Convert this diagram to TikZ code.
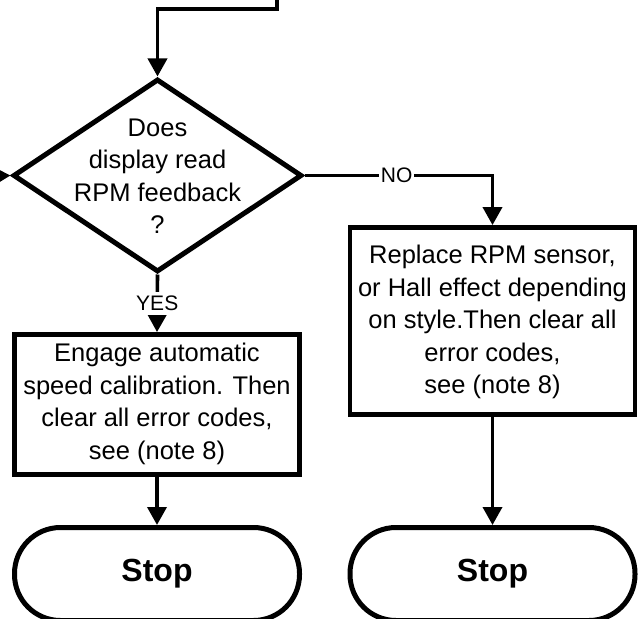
\documentclass[tikz,border=0pt]{standalone}
\usepackage{fontspec}
\setmainfont{Liberation Sans}
\usetikzlibrary{arrows.meta,shapes.geometric}
\begin{document}
\begin{tikzpicture}[x=1pt,y=-1pt,
  conn/.style={line width=3.6pt,-{Triangle[length=18pt,width=19pt]}},
  boxtext/.style={font=\fontsize{25.5}{32.5}\selectfont,align=center,inner sep=0pt},
  procbox/.style={draw,line width=4.8pt,minimum width=285pt,inner sep=0pt},
  decbox/.style={draw,shape=diamond,line width=5pt,minimum width=289pt,minimum height=193pt,inner sep=0pt},
  stopbox/.style={draw,line width=5pt,rounded corners=46pt,minimum width=285pt,minimum height=93pt,inner sep=0pt,font=\fontsize{32}{36}\selectfont\bfseries},
  lbl/.style={fill=white,inner xsep=1.5pt,inner ysep=4pt,font=\fontsize{21}{24}\selectfont}
]
\useasboundingbox (0,0) rectangle (642,618);
\clip (0,0) rectangle (642,618);

\coordinate (topin) at (277,-10);
\coordinate (leftin) at (-30,177);

\node[decbox] (dec) at (157.5,175.5) {};
\node[boxtext] (dectext) at (157.5,176) {Does\\display read\\RPM feedback\\?};

\node[procbox,minimum height=187pt] (rbox) at (492.5,321) {};
\node[boxtext] (rtext) at (492.5,322) {Replace RPM sensor,\\or Hall effect depending\\on style.Then clear all\\error codes,\\see (note 8)};

\node[procbox,minimum height=140pt] (lbox) at (157,404.5) {};
\node[boxtext] (ltext) at (157,404) {Engage automatic\\speed calibration. Then\\clear all error codes,\\see (note 8)};

\node[stopbox] (lstop) at (157,574) {Stop};
\node[stopbox] (rstop) at (492.5,574) {Stop};

\draw[conn] (topin) -- (277,9) -| (dec.north);
\draw[conn] (leftin) -- (dec.west);
\draw[conn] (dec.east) -| node[lbl,pos=0.245] {NO} (rbox.north);
\draw[conn] (dec.south) -- node[lbl] {YES} (lbox.north);
\draw[conn] (lbox.south) -- (lstop.north);
\draw[conn] (rbox.south) -- (rstop.north);
\end{tikzpicture}
\end{document}
